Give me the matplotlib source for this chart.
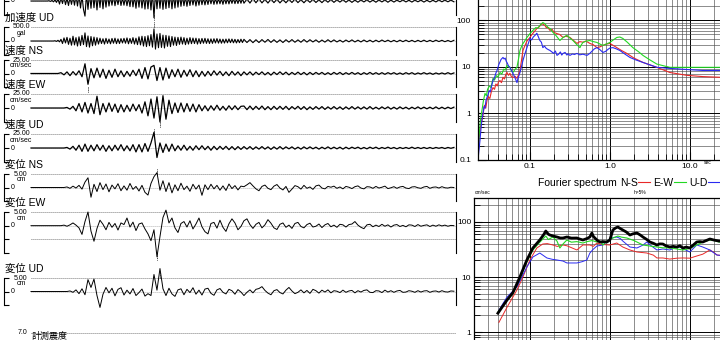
import numpy as np
import matplotlib
matplotlib.use("Agg")
import matplotlib.pyplot as plt
from matplotlib.ticker import LogLocator, FuncFormatter, NullFormatter

plt.rcParams['font.family'] = ['Liberation Sans', 'Noto Sans CJK JP', 'DejaVu Sans']

# ---- waveform records ----
DT = 1.0  # sec per sample
# acceleration: first 71 s read every DT/2, the rest every DT
acc_ew_head = [0, 0, 0, 0, 0, 0, 0, 0, 0, 0, 0, 0,
               10, -15, 20, -30, 40, -50,
               80, -110, 120, -90, 150, -130, 100, -160, 140, -120, 170, -150,
               200, -180, 220, -250, 190, -300, -540,
               250, -300, 280, -260, 310, -240, 290, -320, 270, -230, 300, -280, 250, -220, 240,
               -180, 160, -150, 190, -170, 140, -130, 170, -160, 120, -150, 140, -170, 130,
               -200, 230, -210, 180, -260, 240, -220, 270, -250, 200, -290, 260, -280, 300, -320,
               330, -600, 340,
               -280, 300, -260, 290, -300, 250, -270, 310, -240, 260, -280, 230, -250, 270, -220, 240,
               -190, 180, -170, 160, -190, 150, -160, 170, -140, 150, -180, 140, -150, 160,
               -130, 120, -140, 110, -125, 130, -100, 115, -120, 105, -110, 95, -100, 90,
               -120, 110, -100, 95, -105, 90, -85, 100, -95, 80, -90, 85, -80, 90]
acc_ew_tail = [-80, 70, -75, 85, -65, 80, -70, 60, -75, 70, -60, 65, -70, 55, -65,
               60, -55, 70, -60, 50, -65, 55, -50, 60, -55, 45, -60, 50, -45, 55,
               -50, 45, -40, 50, -45, 40, -50, 35, -45, 40, -35, 45, -40, 35, -45, 40,
               -35, 40, -45, 35, -40, 35, -30, 40, -35, 30, -40, 35, -30, 35, -40, 30,
               -35, 30, -35, 40, -30, 35, -30, 35, -30]

acc_ud_head = [0, 0, 0, 0, 0, 0, 0, 0, 0, 0, 0, 0, 0, 0, 0, 0,
               10, -15, 25, -30,
               60, -90, 110, -70, 130, -120, 100, -150,
               170, -140, 120, -180, 150, -160, 200, -130,
               290, -200, 180, -220,
               160, -170, 140, -150, 120, -110,
               100, -90, 80, -110, 95, -85, 70, -100, 90, -80,
               100, -95, 75, -90, 85, -70, 95, -80, 110, -100,
               90, -85, 120, -110, 100, -130,
               150, -140, 170, -180, 160, -200, 190, -170, 230, -220, 430,
               -290, 250, -240, 270, -230, 210, -250, 200, -190, 180, -200,
               160, -150, 140, -160, 130, -120, 140, -110, 120, -130,
               100, -110, 120, -95, 105, -90, 100, -110, 85, -95,
               90, -80, 95, -85, 80, -90, 75, -85, 80, -70,
               85, -75, 70, -80, 65, -75, 70, -65, 75, -60,
               70, -65, 60, -70, 55, -60, 65, -55]
acc_ud_tail = [60, -55, 50, -60, 45, -55, 50, -45, 55, -50, 45, -50, 40, -55, 45, -40,
               50, -45, 40, -45, 50, -40, 45, -35, 40, -45, 35, -40, 45, -35, 40, -35,
               30, -40, 35, -30, 40, -35, 30, -35, 35, -30, 30, -35, 30, -30, 35, -25,
               30, -30, 25, -30, 30, -25, 30, -25, 25, -30, 25, -25, 30, -25, 25, -25,
               30, -20, 25, -25, 20, -25, 25]

vel_ns = [0, 0, 0, 0, 0, 0, 0, 0, 0, 0,
          1.5, -2.5, 3, -4, 3.5, -3, 5, -6, 18, -20,
          9, -8, 10, -7, 8, -9, 6, -7, 8, -6, 5, -6, 4, -5, 6, -4,
          8, -9, 11, -10, 12, 15, -13, 11, -12, 10, -9,
          7, -6, 8, -7, 6, -5, 7, -6, 5, -6,
          4, -5, 4, -4, 5, -3, 4, -4, 3, -4, 4, -3, 3, -4,
          3, -2.5, 3, -3, 2.5, -2, 3, -2.5, 2, -3, 2.5, -2, 3, -2, 2.5, -2.5,
          2, -2, 2.5, -2, 2, -2.5, 2, -2, 2, -1.5, 2, -2, 1.5, -2, 2, -1.5,
          2, -2, 1.5, -1.5, 2, -1.5, 1.5, -2, 1.5, -1.5, 2, -1.5, 1.5, -1.5,
          1.5, -1.5, 1.5, -1, 1.5, -1.5, 1, -1.5, 1.5, -1, 1.5, -1.5, 1, -1,
          1.5, -1, 1, -1.5, 1, -1, 1, -1, 1.5, -1, 1]

vel_ew = [0, 0, 0, 0, 0, 0, 0, 0, 0, 0, 0, 0,
          1, -2, 3, -5, 8, -7, 10, -9, 8, -10, 21, -12,
          8, -7, 9, -6, 7, -8, 6, -7, 5, -6, 7, -5, 6,
          -9, 11, -14, 16, -18, 20, -25, 22, -20, 14,
          -10, 9, -8, 9, -7, 8, -6, 7, -7, 6,
          -5, 4, -5, 4, -4, 5, -4, 3, -4, 4, -3, 4, -3, 3,
          3.5, -3, 3.5, -3, 3, -2.5, 3.5, -3, 2.5, -3, 3, -2.5, 3, -2.5, 3, -3,
          2.5, -2, 3, -2.5, 2.5, -3, 2, -2.5, 2.5, -2, 2.5, -2.5, 2, -2,
          2.5, -2, 2, -2.5, 2, -2, 2.5, -2, 2, -2, 2, -2, 2.5, -2, 1.5, -2,
          2, -1.5, 2, -2, 1.5, -2, 2, -1.5, 1.5, -2, 1.5, -1.5, 2, -1.5,
          1.5, -1.5, 1.5, -1.5, 2, -1.5, 1.5, -1.5, 1.5, -1, 1.5]

vel_ud = [0, 0, 0, 0, 0, 0, 0, 0, 0, 0, 0, 0,
          1, -2, 3, -4, 5, -6, 7, -6, 5,
          -5, 6, -4, 5, -6, 4, -5, 5, -4, 6, -5, 4, -5, 6, -7,
          6, -7, 8, -6, 9, 28, -17, 9, -8, 7, -6, 7,
          -5, 4, -4, 5, -4, 3, -4, 4, -3, 4, -3, 3, -4, 3, -3, 3, -2.5, 3, -3,
          2.5, -3, 2.5, -2.5,
          2.5, -2, 2.5, -2.5, 2, -2, 2.5, -2, 2, -2.5, 2, -2, 2.5, -2, 2, -1.5,
          2, -2, 1.5, -2, 2, -1.5, 2, -1.5, 1.5, -2, 1.5, -1.5, 2, -1.5,
          1.5, -1.5, 1.5, -2, 1.5, -1.5, 1.5, -1, 1.5, -1.5, 1, -1.5, 1.5, -1,
          1.5, -1.5, 1, -1, 1.5, -1, 1, -1.5, 1, -1, 1, -1, 1.5, -1, 1, -1,
          1, -1, 1, -1, 1, -0.5, 1, -1, 1, -0.5, 1]

dis_ns = [0, 0, 0, 0, 0, 0, 0, 0, 0, 0, 0, 0,
          0.2, -0.3, 0.5, -0.2, 0.8, -0.6, 2.0, 3.6, -3.6,
          1.2, -1.5, 1.8, -0.8, 1.3, -1.6, 0.9, -0.5, 1.4, -1.2,
          0.6, -1.0, 1.5, -0.7, 0.4, -1.3, 0.8, -1.8, -2.8, 1.5,
          4.0, 5.5, -1.0, 2.5, -1.5, 1.8, -2.0, 1.0, -1.2, 1.6,
          -0.8, 0.5, -1.4, 1.2, -0.6, 0.9, -2.9, 1.0, -0.8, 1.2,
          -0.5, 0.8, -1.0, 0.6, -1.1, 1.3, -0.4, 0.7, -0.9, 0.5,
          0.3, 1.0, 1.8, 0.6, -0.5, -1.2, 0.4, 0.9, -0.3, -0.8,
          0.5, 1.1, -0.2, -0.9, 0.4, -1.8, -0.6, 0.7, 0.3, -0.6,
          0.8, -0.3, 0.2, -0.7, 0.6, 0.9, -0.2, -0.5, 0.4, 0.1,
          0.5, -0.3, 0.2, -0.5, 0.4, 0.1, -0.4, 0.3, 0.6, -0.2, -0.5, 0.3,
          0.2, -0.3, 0.4, -0.2, 0.1, 0.5, -0.4, -0.1, 0.3, -0.3, 0.2, 0.4,
          -0.2, -0.4, 0.2, 0.3, -0.1, -0.3, 0.2, 0.4, -0.3, 0.1, 0.2, -0.2,
          0.3, -0.1, -0.2, 0.1, 0.0]

dis_ew = [0, 0, 0, 0, 0, 0, 0, 0, 0, 0, 0,
          0.2, -0.2, 0.3, 1.0, 0.2, -0.8, -3.2, 1.5, 5.0, -2.0,
          -5.7, -1.0, 2.0, 0.5, -1.5, 1.2, -0.6, 0.8, -1.6, 1.0,
          0.4, 2.8, -0.5, 1.3, -1.8, 0.6, 1.0, -1.2, -3.0, -5.5,
          -1.5, -11.4, -4.0, 3.0, 5.7, 1.0, 2.8, -0.8, -2.5, 0.8,
          1.5, -0.5, 1.8, -1.2, 0.6, 2.8, -0.4, -2.2, -3.0, 0.8,
          1.2, -0.9, 2.0, -0.6, -2.1, 0.7, 2.5, 1.0, -1.5, -0.3,
          1.8, 2.5, 0.4, -1.0, 0.5, 1.2, -0.8, 0.3, 2.2, 0.9,
          -0.8, -1.4, 0.5, 1.0, -0.6, 0.2, -1.0, 0.8, 1.2, -0.3,
          -0.8, 0.4, 0.9, -0.5, -0.2, 0.6, -0.7, 0.3, 0.8, -0.4,
          0.2, -0.6, 0.5, 0.3, -0.5, 0.4, 0.6, 1.5, 0.2, -0.6,
          -1.1, 0.3, 0.5, -0.4, 0.2, -0.3, 0.5, -0.2, 0.3, -0.5,
          0.2, 0.4, -0.3, 0.1, -0.4, 0.3, 0.2, -0.3, 0.4, -0.2,
          0.1, 0.3, -0.3, 0.2, -0.2, 0.3, -0.1, 0.2, -0.2, 0.1, 0.0]

dis_ud = [0, 0, 0, 0, 0, 0, 0, 0, 0, 0, 0, 0, 0,
          0.2, -0.3, 0.6, -0.8, 1.0, -1.2, 4.4, 1.5,
          4.6, -1.5, -5.9, -1.0, 1.5, -0.5, 1.2, -1.6, 0.8, 1.4,
          -1.3, 0.5, -0.9, 1.1, -1.5, -0.4, 0.9, -1.7, -0.8, -1.5,
          6.3, 0.5, 8.5, 1.0, -1.5, 1.2, -0.9, -1.8, 0.6, 1.0,
          -1.2, 0.8, -0.4, 1.4, -1.0, 0.5, -1.3, 0.9, 1.2, -0.7,
          -1.4, 0.6, 1.1, -0.3, -0.9, 0.8, 0.3, -1.0, 0.7, -0.2,
          -1.5, -0.3, 0.6, -0.5, 0.8, 1.1, 1.8, 0.4, -0.6, -1.2,
          0.3, 0.7, -0.4, -0.9, 0.5, 1.5, 0.2, -0.8, -0.3, 0.6,
          -0.5, 0.4, -0.7, 0.8, 0.3, -0.6, 0.5, -0.2, 0.6, -0.5,
          0.3, 0.1, -0.4, 0.5, -0.3, 0.2, 0.4, -0.5, 0.3, -0.2,
          0.4, 0.6, -0.3, -0.4, 0.3, 0.2, -0.4, 0.5, -0.2, 0.3,
          -0.3, 0.2, 0.4, -0.3, -0.2, 0.3, 0.1, -0.3, 0.3, -0.2,
          0.2, 0.3, -0.3, 0.1, 0.2, -0.2, 0.3, -0.1, -0.2, 0.2, 0.1]

# ---- Fourier spectrum (period sec, cm/sec) ----
fs_ns_T = [0.0224, 0.0232, 0.024, 0.0251, 0.026, 0.027, 0.028, 0.029, 0.030, 0.0315,
           0.033, 0.0345, 0.036, 0.0375, 0.039, 0.0405, 0.0422, 0.044, 0.046, 0.048,
           0.050, 0.0516, 0.054, 0.0562, 0.0585, 0.0613, 0.065, 0.0688, 0.072, 0.075,
           0.0785, 0.0818, 0.086, 0.0917, 0.100, 0.106, 0.114, 0.122, 0.130, 0.136,
           0.141, 0.146, 0.154, 0.160, 0.166, 0.178, 0.190, 0.200, 0.218, 0.235,
           0.259, 0.280, 0.316, 0.345, 0.387, 0.420, 0.460, 0.50, 0.562, 0.62,
           0.688, 0.75, 0.818, 0.90, 1.0, 1.1, 1.22, 1.4, 1.63, 2.0,
           2.59, 3.2, 3.87, 5.62, 9.17, 14.5, 23.7, 30]
fs_ns_A = [0.1, 0.3, 0.5, 0.7, 1.0, 1.5, 1.3, 1.9, 2.3, 2.1,
           3.0, 3.6, 3.3, 4.3, 3.9, 4.8, 5.1, 4.6, 6.0, 5.5,
           7.0, 7.6, 6.6, 7.3, 6.2, 5.9, 6.3, 5.7, 6.8, 8.4,
           14, 22.6, 28, 36, 43, 50, 58, 67, 72, 80,
           86, 82, 78, 70, 72, 61, 64, 55, 52, 50,
           43, 46, 43, 38, 32, 35, 34, 36, 32, 30,
           26, 27, 29, 31, 32, 29, 26, 22.5, 19.5, 15.5,
           12.5, 11, 9.8, 7.6, 6.6, 6.2, 6.0, 6.0]

fs_ew_T = [0.0224, 0.0232, 0.024, 0.0251, 0.0262, 0.0274, 0.0285, 0.0295, 0.031, 0.0325,
           0.0345, 0.036, 0.038, 0.040, 0.0422, 0.0445, 0.047, 0.049, 0.0516, 0.054,
           0.0562, 0.0585, 0.0613, 0.065, 0.0688, 0.072, 0.075, 0.080, 0.086, 0.0917,
           0.100, 0.109, 0.118, 0.125, 0.133, 0.140, 0.145, 0.152, 0.160, 0.168,
           0.180, 0.194, 0.210, 0.237, 0.260, 0.290, 0.315, 0.345, 0.380, 0.422,
           0.440, 0.460, 0.51, 0.562, 0.62, 0.688, 0.75, 0.818, 0.90, 1.0,
           1.1, 1.22, 1.33, 1.45, 1.65, 1.94, 2.3, 2.59, 3.2, 3.87,
           5.62, 9.17, 14.5, 23.7, 30]
fs_ew_A = [0.11, 0.35, 0.7, 1.16, 1.9, 2.7, 2.4, 3.3, 3.9, 3.6,
           5.7, 5.2, 6.5, 6.1, 7.6, 7.0, 9.0, 8.5, 10.8, 10.0,
           9.8, 8.3, 7.6, 8.8, 9.8, 15, 22.6, 30, 36, 43,
           52, 61, 70, 68, 78, 85, 90, 86, 78, 70.7,
           66, 55, 48, 37, 43, 47.6, 42, 37, 31, 26,
           30, 33.6, 36, 37, 35, 33.6, 31, 29, 31, 33.6,
           38, 43, 44, 41, 34, 26, 21, 17.7, 14, 11.5,
           9.8, 9.8, 9.8, 9.8, 9.8]

fs_ud_T = [0.0224, 0.023, 0.0237, 0.0245, 0.0251, 0.0259, 0.0266, 0.0274, 0.0282, 0.029,
           0.030, 0.031, 0.032, 0.033, 0.0345, 0.036, 0.0375, 0.039, 0.0398, 0.041,
           0.0422, 0.0435, 0.0447, 0.046, 0.0475, 0.049, 0.0505, 0.0516, 0.054, 0.0562,
           0.0585, 0.0613, 0.064, 0.0665, 0.0688, 0.071, 0.073, 0.075, 0.0785, 0.0818,
           0.086, 0.0917, 0.096, 0.100, 0.105, 0.110, 0.116, 0.122, 0.127, 0.133,
           0.139, 0.145, 0.152, 0.160, 0.170, 0.178, 0.188, 0.198, 0.208, 0.218,
           0.230, 0.240, 0.250, 0.259, 0.275, 0.290, 0.300, 0.316, 0.340, 0.360,
           0.387, 0.420, 0.460, 0.516, 0.56, 0.60, 0.64, 0.688, 0.74, 0.818,
           0.88, 0.95, 1.0, 1.09, 1.2, 1.33, 1.5, 1.78, 2.1, 2.59,
           3.2, 3.87, 5.62, 9.17, 14.5, 23.7, 30]
fs_ud_A = [0.1, 0.16, 0.26, 0.5, 0.75, 1.0, 1.4, 1.3, 1.9, 2.2,
           2.6, 3.1, 2.9, 3.8, 5.1, 5.8, 7.4, 8.6, 9.8, 11.5,
           12.8, 14.5, 15.2, 16.0, 14.8, 15.5, 13.2, 12.5, 10.5, 9.8,
           8.5, 7.3, 6.2, 5.3, 4.6, 5.8, 6.6, 7.6, 10.2, 13.8,
           18.5, 26, 33, 41, 38, 44, 48, 53, 45, 37,
           34, 26, 28, 25, 23.5, 22.6, 21, 19.5, 22, 17.7,
           19, 21, 18, 19.5, 20.5, 18, 19.2, 17.7, 19, 18.5,
           19.5, 18.2, 18.8, 17.7, 19.5, 22, 24.5, 26, 24, 20.5,
           21.5, 24, 25.5, 26, 24.5, 22.6, 19.5, 16, 14.2, 12.5,
           11, 9.8, 9.3, 8.8, 8.4, 8.4, 8.4]

# ---- velocity response spectrum h=5% (period sec, cm/sec) ----
sv_sum_T = [0.0398, 0.0516, 0.0613, 0.075, 0.0917, 0.109, 0.133, 0.150, 0.158, 0.17,
            0.178, 0.20, 0.218, 0.24, 0.259, 0.29, 0.33, 0.387, 0.42, 0.46,
            0.516, 0.562, 0.596, 0.62, 0.649, 0.70, 0.75, 0.82, 0.917, 1.0,
            1.09, 1.18, 1.26, 1.35, 1.45, 1.6, 1.78, 1.95, 2.18, 2.4,
            2.59, 2.9, 3.16, 3.5, 3.87, 4.2, 4.6, 5.0, 5.62, 6.2,
            6.88, 7.5, 8.18, 9.0, 10, 11, 12.2, 13.3, 14.5, 16,
            17.8, 20, 23.1, 30]
sv_sum_A = [2.2, 3.8, 5.2, 10, 20.4, 33.7, 47.1, 60, 68.6, 60,
            58, 55, 53.4, 51.2, 51.2, 53.4, 51, 51.2, 49, 47.1,
            50, 53.4, 63.1, 55, 51.2, 46, 43.3, 44, 43.3, 47.1,
            71.5, 78, 81, 76, 71.5, 66, 58, 61, 63.1, 58,
            53.4, 48, 43.3, 41, 38.2, 40, 39.8, 37, 35.1, 36,
            35.1, 37, 33.7, 35, 33.7, 38, 43.3, 44, 43.3, 46,
            49.1, 47, 45.1, 44]

sv_ew_T = [0.0398, 0.0516, 0.0613, 0.075, 0.0917, 0.109, 0.133, 0.158, 0.17, 0.194,
           0.218, 0.237, 0.26, 0.29, 0.33, 0.387, 0.46, 0.52, 0.6, 0.688,
           0.75, 0.818, 0.917, 1.09, 1.26, 1.4, 1.63, 2.0, 2.59, 3.16,
           3.87, 4.6, 5.62, 6.88, 8.18, 10, 12.2, 14.5, 17.8, 20,
           23.1, 30]
sv_ew_A = [2.3, 3.7, 5.0, 9.5, 19, 31, 43, 55.6, 48, 53.4,
           45, 33.7, 40, 47.1, 43, 44, 41.5, 44, 46, 43.3,
           45, 38.2, 45, 51.2, 55.6, 53, 51.2, 46, 38.2, 36.6,
           35.1, 34, 33.7, 32.3, 31.0, 33, 38.2, 43, 47.1, 46,
           43.3, 42]

sv_ns_T = [0.041, 0.0516, 0.0688, 0.0818, 0.1, 0.122, 0.145, 0.165, 0.194, 0.22,
           0.259, 0.29, 0.316, 0.387, 0.46, 0.562, 0.62, 0.688, 0.8, 1.0,
           1.22, 1.45, 1.78, 2.18, 2.9, 3.5, 3.87, 4.6, 5.62, 6.88,
           8.18, 10, 12.2, 14.5, 17.8, 20, 21.8, 30]
sv_ns_A = [1.5, 2.8, 5.8, 10, 20.4, 33.7, 39.8, 40.5, 38.2, 36,
           38.2, 37, 35.1, 31.0, 38.2, 38.2, 36, 41.5, 39, 38.2,
           41.5, 35.1, 31.0, 28.5, 27.3, 25, 22.2, 22.2, 21.2, 22,
           22.2, 22, 24.1, 26, 31.0, 28, 25.1, 24]

sv_ud_T = [0.041, 0.0516, 0.0688, 0.0917, 0.109, 0.133, 0.163, 0.19, 0.218, 0.26,
           0.29, 0.33, 0.387, 0.45, 0.516, 0.562, 0.62, 0.688, 0.818, 1.0,
           1.1, 1.22, 1.35, 1.45, 1.78, 2.18, 2.59, 2.9, 3.2, 3.87,
           4.6, 5.62, 6.5, 7.5, 8.5, 10, 12.2, 14.5, 17.8, 21.8,
           30]
sv_ud_A = [2.5, 4.3, 6.6, 15.2, 23.1, 27.3, 22.2, 21, 20.4, 19.5,
           18.0, 18, 18.0, 19, 20.4, 27.3, 32, 36.6, 38.2, 49.1,
           52, 53.4, 50, 45.1, 35.1, 33.7, 38, 43.3, 38, 31.0,
           32.3, 31.0, 34, 35.1, 32, 28.5, 38.2, 35.1, 31.0, 25.1,
           24]

RED, GREEN, BLUE = '#e82828', '#22d822', '#2a2af0'

W, H = 720, 340
fig = plt.figure(figsize=(7.2, 3.4), dpi=100)


def px_axes(x0, y0, x1, y1):
    # axes placed by pixel box (left, top, right, bottom)
    return fig.add_axes([x0 / W, 1 - y1 / H, (x1 - x0) / W, (y1 - y0) / H])


def ftext(x, y, s, **kw):
    fig.text(x / W, 1 - y / H, s, **kw)


def two_rate(head, tail):
    # head sampled at DT/2, tail continues at DT
    th = np.arange(len(head)) * DT / 2
    tt = th[-1] + DT / 2 + np.arange(len(tail)) * DT
    return np.concatenate([th, tt]), np.array(head + tail, dtype=float)


def one_rate(vals):
    return np.arange(len(vals)) * DT, np.array(vals, dtype=float)


# ---- waveform panels ----
TR_LEFT, TR_START, TR_RIGHT = 4, 31, 456
DUR = 141.7 * DT
x_lo = -DUR * (TR_START - TR_LEFT) / (TR_RIGHT - TR_START)
start_frac = (TR_START - TR_LEFT) / (TR_RIGHT - TR_LEFT)

# name, record, grid levels, scale text, unit, box (top px, bottom px), line width
traces = [
    ("", two_rate(acc_ew_head, acc_ew_tail), [500, 0, -500], "500.0", "gal", (-13, 15), 0.8),
    ("加速度 UD", two_rate(acc_ud_head, acc_ud_tail), [500, 0, -500], "500.0", "gal", (27, 55), 0.8),
    ("速度 NS", one_rate(vel_ns), [25, 0, -25], "25.00", "cm/sec", (60, 87), 0.9),
    ("速度 EW", one_rate(vel_ew), [25, 0, -25], "25.00", "cm/sec", (94, 122), 0.9),
    ("速度 UD", one_rate(vel_ud), [25, 0, -25], "25.00", "cm/sec", (134, 162), 0.9),
    ("変位 NS", one_rate(dis_ns), [5, 0, -5], "5.00", "cm", (174, 201), 0.7),
    ("変位 EW", one_rate(dis_ew), [5, 0, -5, -10], "5.00", "cm", (212, 253), 0.7),
    ("変位 UD", one_rate(dis_ud), [5, 0, -5], "5.00", "cm", (278, 305), 0.7),
]


def fx(px):
    return (px - TR_LEFT) / (TR_RIGHT - TR_LEFT)


for name, (t, vals), levels, scale_lbl, unit, (top, bot), lw in traces:
    ax = px_axes(TR_LEFT, top, TR_RIGHT, bot)
    lo, hi = min(levels), max(levels)
    ax.set_xlim(x_lo, DUR)
    ax.set_ylim(lo, hi)
    for lv in levels:
        ax.axhline(lv, xmin=start_frac, color='0.3' if lv != 0 else '0.6',
                   ls=(0, (1, 1.4)), lw=0.6, zorder=1)
    ax.plot(t, vals, color='black', lw=lw, clip_on=False, zorder=3)
    # mark of the maximum
    k = int(np.argmax(np.abs(vals)))
    sgn = np.sign(vals[k])
    edge = hi if sgn > 0 else lo
    ext = (hi - lo) * 0.18 * sgn
    ax.plot([t[k], t[k]], [edge, edge + ext], color='black', lw=0.7,
            ls=(0, (1, 1.2)), clip_on=False)
    for s in ['top', 'bottom']:
        ax.spines[s].set_visible(False)
    ax.spines['left'].set_linewidth(0.8)
    ax.spines['right'].set_linewidth(0.8)
    ax.set_xticks([])
    ax.set_yticks(levels)
    ax.tick_params(axis='y', direction='in', length=3.5, width=0.8, labelleft=False)
    ytr = ax.get_yaxis_transform()
    if top > 0:
        ax.text(fx(21), hi, scale_lbl, transform=ytr, fontsize=5, ha='center', va='center')
        ax.text(fx(21), hi * 0.56, unit, transform=ytr, fontsize=5, ha='center', va='center')
    ax.text(fx(13), 0, "0", transform=ytr, fontsize=5, ha='center', va='center')
    if name:
        ftext(5, top - 9.5, name, fontsize=7.5, va='center', ha='left')

# seismic intensity strip (only its top edge is in view)
ax_i = px_axes(TR_LEFT, 333, TR_RIGHT, 365)
ax_i.set_xlim(x_lo, DUR)
ax_i.set_ylim(0, 7)
ax_i.axhline(7, xmin=start_frac, color='0.3', ls=(0, (1, 1.4)), lw=0.6)
ax_i.axis('off')
ftext(23, 332, "7.0", fontsize=5, ha='center', va='center')
ftext(32, 336, "計測震度", fontsize=6.5, ha='left', va='center')


# ---- spectra ----
def style_log(ax, pad):
    ax.set_xscale('log')
    ax.set_yscale('log')
    ax.xaxis.set_major_locator(LogLocator(base=10))
    ax.xaxis.set_minor_locator(LogLocator(base=10, subs=np.arange(2, 10)))
    ax.yaxis.set_major_locator(LogLocator(base=10))
    ax.yaxis.set_minor_locator(LogLocator(base=10, subs=np.arange(2, 10)))
    ax.grid(which='major', color='black', lw=0.7)
    ax.grid(which='minor', color='0.3', lw=0.45)
    ax.set_axisbelow(True)
    ax.tick_params(which='major', direction='in', length=6, width=0.8,
                   labelsize=6, pad=pad, top=False, right=False)
    ax.tick_params(which='minor', direction='in', length=4, width=0.6,
                   top=False, right=False)
    ax.yaxis.set_major_formatter(FuncFormatter(lambda v, p: f'{v:g}'))
    ax.yaxis.set_minor_formatter(NullFormatter())
    for s in ax.spines.values():
        s.set_linewidth(0.9)


ax_f = px_axes(478, -24, 728, 160)
style_log(ax_f, pad=5)
ax_f.set_xlim(0.0224, 30)
ax_f.set_ylim(0.1, 900)
ax_f.xaxis.set_major_formatter(FuncFormatter(lambda v, p: f'{v:.1f}'))
ax_f.xaxis.set_minor_formatter(NullFormatter())
ax_f.tick_params(axis='x', pad=2)
l_ns, = ax_f.plot(fs_ns_T, fs_ns_A, color=RED, lw=0.8)
l_ew, = ax_f.plot(fs_ew_T, fs_ew_A, color=GREEN, lw=0.8)
l_ud, = ax_f.plot(fs_ud_T, fs_ud_A, color=BLUE, lw=0.8)
ftext(708, 162, "sec", fontsize=3.5, ha='center', va='center')

ftext(538, 183, "Fourier spectrum", fontsize=7.5, ha='left', va='center')
ax_f.legend([l_ns, l_ew, l_ud], ['N-S', 'E-W', 'U-D'], ncol=3, markerfirst=False,
            frameon=False, loc='center left', bbox_to_anchor=(620 / W, 1 - 183 / H),
            bbox_transform=fig.transFigure, fontsize=7.5, handlelength=1.1,
            handletextpad=0.05, columnspacing=0.35, borderpad=0, borderaxespad=0)

ax_v = px_axes(474, 198, 728, 348.6)
style_log(ax_v, pad=2)
ax_v.set_xlim(0.02, 30)
ax_v.set_ylim(0.5, 273)
ax_v.tick_params(axis='x', labelbottom=False)
ax_v.plot(sv_ns_T, sv_ns_A, color=RED, lw=0.7)
ax_v.plot(sv_ud_T, sv_ud_A, color=BLUE, lw=0.7)
ax_v.plot(sv_ew_T, sv_ew_A, color=GREEN, lw=0.8)
ax_v.plot(sv_sum_T, sv_sum_A, color='black', lw=2.0)
ftext(475, 193, "cm/sec", fontsize=3.5, ha='left', va='center')
ftext(640, 193, "h=5%", fontsize=3.5, ha='center', va='center')

fig.savefig("out.png", dpi=100)
